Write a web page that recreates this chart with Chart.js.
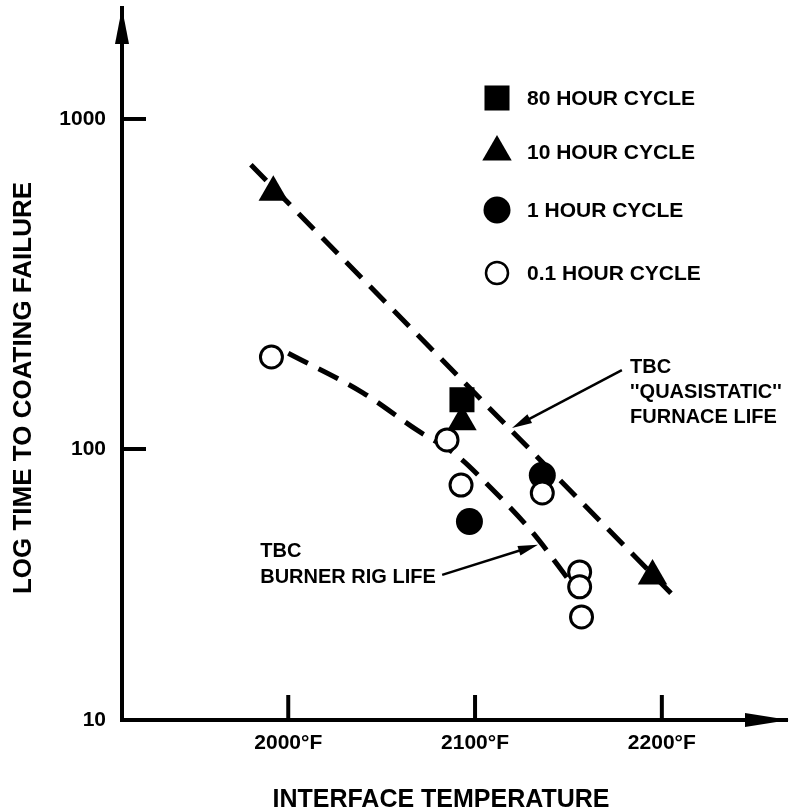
<!DOCTYPE html>
<html>
<head>
<meta charset="utf-8">
<script src="https://cdn.jsdelivr.net/npm/chart.js@4/dist/chart.umd.min.js"></script>
<style>
  html, body { margin: 0; padding: 0; background: #fff; }
  #chart { display: block; }
</style>
</head>
<body>
<canvas id="chart" width="800" height="812"></canvas>
<script>
// axis ticks
var xTickValues = [2000, 2100, 2200];
var xTickLabels = ['2000°F', '2100°F', '2200°F'];
var yTickValues = [10, 100, 1000];

// measured failures (interface temperature °F, hours)
var cycle80Temp = [2093];
var cycle80Life = [141];
var cycle10Temp = [1992, 2093, 2195];
var cycle10Life = [600, 121, 34];
var cycle1Temp = [2136, 2097];
var cycle1Life = [80, 54];
var cycle01Temp = [1991, 2085, 2092.5, 2136, 2156, 2156, 2157];
var cycle01Life = [190, 106.5, 73.6, 68.8, 35.2, 31, 24];

// life curves
var furnaceTemp = [1980, 2208];
var furnaceLife = [726, 27.9];
var rigTemp = [2000, 2040, 2069, 2090, 2108, 2131, 2151];
var rigLife = [195, 148, 114, 95, 72.4, 49, 32.3];

// callouts
var furnaceNote = ['TBC', "''QUASISTATIC''", 'FURNACE LIFE'];
var rigNote = ['TBC', 'BURNER RIG LIFE'];

var FONT = '"Liberation Sans", Arial, Helvetica, sans-serif';

function pts(xs, ys) {
	return xs.map(function(v, i){ return {x: v, y: ys[i]}; });
}

// log axis whose decades don't all get the same height
class SplitLogScale extends Chart.LogarithmicScale {
	_weighted(off) {
		var w = this.options.decadeWeights;
		if (off < 0) return off * w[0];
		var acc = 0;
		for (var i = 0; off > i; i++) {
			var wi = w[Math.min(i, w.length - 1)];
			acc += Math.min(off - i, 1) * wi;
		}
		return acc;
	}
	getPixelForValue(value) {
		if (value === undefined || value === null || isNaN(value) || value <= 0) return NaN;
		var lo = Math.log10(this.min);
		var total = this._weighted(Math.log10(this.max) - lo);
		return this.getPixelForDecimal(this._weighted(Math.log10(value) - lo) / total);
	}
}
SplitLogScale.id = 'splitLog';
SplitLogScale.defaults = Chart.LogarithmicScale.defaults;
Chart.register(SplitLogScale);

function arrow(ctx, x0, y0, x1, y1) {
	var ang = Math.atan2(y1 - y0, x1 - x0);
	ctx.lineWidth = 2.5;
	ctx.beginPath();
	ctx.moveTo(x0, y0);
	ctx.lineTo(x1 - Math.cos(ang) * 10, y1 - Math.sin(ang) * 10);
	ctx.stroke();
	ctx.beginPath();
	ctx.moveTo(x1, y1);
	ctx.lineTo(x1 - Math.cos(ang) * 20 - Math.sin(ang) * 5, y1 - Math.sin(ang) * 20 + Math.cos(ang) * 5);
	ctx.lineTo(x1 - Math.cos(ang) * 20 + Math.sin(ang) * 5, y1 - Math.sin(ang) * 20 - Math.cos(ang) * 5);
	ctx.closePath();
	ctx.fill();
}

var decor = {
	id: 'decor',
	afterDraw: function(chart, args, opts) {
		var ctx = chart.ctx, a = chart.chartArea;
		var x = chart.scales.x, y = chart.scales.y;
		ctx.save();
		ctx.fillStyle = '#000';
		ctx.strokeStyle = '#000';

		// arrow heads on the axes
		ctx.beginPath();
		ctx.moveTo(a.left, a.top);
		ctx.lineTo(a.left - 7, a.top + 36);
		ctx.lineTo(a.left + 7, a.top + 36);
		ctx.closePath();
		ctx.fill();
		ctx.beginPath();
		ctx.moveTo(a.right + 2, a.bottom);
		ctx.lineTo(a.right - 42, a.bottom - 7);
		ctx.lineTo(a.right - 42, a.bottom + 7);
		ctx.closePath();
		ctx.fill();

		// tick marks point into the plot
		ctx.lineWidth = 4;
		yTickValues.forEach(function(v){
			if (v === y.min) return;
			var py = y.getPixelForValue(v);
			ctx.beginPath(); ctx.moveTo(a.left, py); ctx.lineTo(a.left + 24, py); ctx.stroke();
		});
		xTickValues.forEach(function(v){
			var px = x.getPixelForValue(v);
			ctx.beginPath(); ctx.moveTo(px, a.bottom); ctx.lineTo(px, a.bottom - 25); ctx.stroke();
		});

		// callouts
		arrow(ctx, x.getPixelForValue(2178.6), y.getPixelForValue(173.4),
			x.getPixelForValue(2119.8), y.getPixelForValue(115.8));
		arrow(ctx, x.getPixelForValue(2082.4), y.getPixelForValue(34.3),
			x.getPixelForValue(2133.7), y.getPixelForValue(44.3));
		ctx.font = 'bold 20px ' + FONT;
		ctx.textAlign = 'left';
		ctx.textBaseline = 'middle';
		var fx = x.getPixelForValue(2183), fy = y.getPixelForValue(176);
		furnaceNote.forEach(function(t, i){ ctx.fillText(t, fx, fy + i * 25); });
		var rx = x.getPixelForValue(1985), ry = y.getPixelForValue(41.7);
		rigNote.forEach(function(t, i){ ctx.fillText(t, rx, ry + i * 26); });

		// legend for the marker series
		var row = 0;
		ctx.font = 'bold 21px ' + FONT;
		chart.data.datasets.forEach(function(ds){
			if (ds.showLine) return;
			var ly = opts.rows[row++];
			ctx.fillStyle = ds.backgroundColor;
			ctx.strokeStyle = ds.borderColor;
			Chart.helpers.drawPoint(ctx, {
				pointStyle: ds.pointStyle,
				radius: ds.pointRadius,
				rotation: 0,
				borderWidth: ds.borderWidth
			}, opts.markerX, ly);
			ctx.fillStyle = '#000';
			ctx.fillText(ds.label, opts.textX, ly + 1);
		});

		// axis titles
		ctx.font = 'bold 25px ' + FONT;
		ctx.textAlign = 'center';
		ctx.fillText('INTERFACE TEMPERATURE', 441, 800);
		ctx.translate(24, 388);
		ctx.rotate(-Math.PI / 2);
		ctx.font = 'bold 26px ' + FONT;
		ctx.fillText('LOG TIME TO COATING FAILURE', 0, 0);
		ctx.restore();
	}
};

var lineStyle = {
	showLine: true,
	pointRadius: 0,
	borderColor: '#000',
	borderWidth: 5,
	borderDash: [22, 12],
	fill: false,
	order: 10
};

var config = {};
config.type = 'scatter';
config.data = {};
config.data.datasets = [
	{
		label: '80 HOUR CYCLE',
		data: pts(cycle80Temp, cycle80Life),
		pointStyle: 'rect', pointRadius: 17.7,
		backgroundColor: '#000', borderColor: '#000', borderWidth: 0,
		order: 4
	},
	{
		label: '10 HOUR CYCLE',
		data: pts(cycle10Temp, cycle10Life),
		pointStyle: 'triangle', pointRadius: 17,
		backgroundColor: '#000', borderColor: '#000', borderWidth: 0,
		order: 3
	},
	{
		label: '1 HOUR CYCLE',
		data: pts(cycle1Temp, cycle1Life),
		pointStyle: 'circle', pointRadius: 13.5,
		backgroundColor: '#000', borderColor: '#000', borderWidth: 0,
		order: 2
	},
	{
		label: '0.1 HOUR CYCLE',
		data: pts(cycle01Temp, cycle01Life),
		pointStyle: 'circle', pointRadius: 11,
		backgroundColor: '#fff', borderColor: '#000', borderWidth: 3,
		order: 1
	},
	Object.assign({label: 'TBC QUASISTATIC FURNACE LIFE', data: pts(furnaceTemp, furnaceLife)}, lineStyle),
	Object.assign({label: 'TBC BURNER RIG LIFE', data: pts(rigTemp, rigLife), cubicInterpolationMode: 'monotone'}, lineStyle)
];

config.options = {
	responsive: false,
	animation: false,
	events: [],
	layout: { autoPadding: false, padding: { top: 8, right: 13, left: 0, bottom: 0 } },
	plugins: {
		legend: { display: false },
		tooltip: { enabled: false },
		decor: { markerX: 497, textX: 527, rows: [98, 152, 210, 273] }
	},
	scales: {
		x: {
			type: 'linear',
			min: 1911,
			max: 2267,
			grid: { display: false },
			border: { display: true, color: '#000', width: 4 },
			afterFit: function(s){ s.height = 92; s.paddingLeft = 0; s.paddingRight = 0; },
			afterBuildTicks: function(s){ s.ticks = xTickValues.map(function(v){ return {value: v}; }); },
			ticks: {
				color: '#000',
				padding: 3,
				maxRotation: 0,
				autoSkip: false,
				font: { family: FONT, size: 21, weight: 'bold' },
				callback: function(v){ return xTickLabels[xTickValues.indexOf(v)]; }
			}
		},
		y: {
			type: 'splitLog',
			min: 10,
			max: 2169,
			decadeWeights: [271, 330, 330],
			grid: { display: false },
			border: { display: true, color: '#000', width: 4 },
			afterFit: function(s){ s.width = 122; s.paddingTop = 0; s.paddingBottom = 0; },
			afterBuildTicks: function(s){ s.ticks = yTickValues.map(function(v){ return {value: v}; }); },
			ticks: {
				color: '#000',
				padding: 8,
				autoSkip: false,
				font: { family: FONT, size: 21, weight: 'bold' },
				callback: function(v){ return String(v); }
			}
		}
	}
};
config.plugins = [decor];

window.lifeChart = new Chart(document.getElementById('chart'), config);
</script>
</body>
</html>
